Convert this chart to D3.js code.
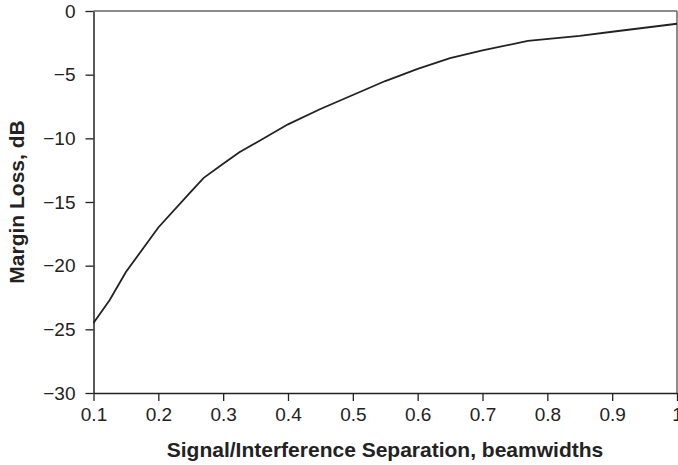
<!DOCTYPE html>
<html>
<head>
<meta charset="utf-8">
<script src="https://cdn.jsdelivr.net/npm/d3@7"></script>
<style>
  body { margin: 0; background: #fff; }
  svg { display: block; font-family: "Liberation Sans", Arial, sans-serif; }
</style>
</head>
<body>
<svg id="chart" width="678" height="465"></svg>
<script>
// separation in beamwidths, margin loss in dB
var separation = [0.1, 0.125, 0.15, 0.2, 0.25, 0.27, 0.3, 0.325, 0.4, 0.45, 0.5, 0.55, 0.6, 0.65, 0.7, 0.77, 0.85, 0.9, 1.0];
var marginLoss = [-24.5, -22.7, -20.5, -17.0, -14.2, -13.1, -12.0, -11.1, -8.9, -7.7, -6.6, -5.5, -4.55, -3.7, -3.1, -2.35, -1.95, -1.63, -1.0];
var xTicks = [0.1, 0.2, 0.3, 0.4, 0.5, 0.6, 0.7, 0.8, 0.9, 1];
var yTicks = [0, -5, -10, -15, -20, -25, -30];

var margin = {top: 11, right: 1, bottom: 72, left: 93.5};
var width = 678 - margin.left - margin.right;
var height = 465 - margin.top - margin.bottom;

var svg = d3.select("#chart");
var g = svg.append("g")
    .attr("transform", "translate(" + margin.left + "," + margin.top + ")");

var x = d3.scaleLinear().domain([0.1, 1]).range([0, width]);
var y = d3.scaleLinear().domain([-30, 0]).range([height, 0]);

// grey frame on top and right
g.append("line")
    .attr("x1", 0).attr("x2", width).attr("y1", 0).attr("y2", 0)
    .attr("stroke", "#666").attr("stroke-width", 1.5);
g.append("line")
    .attr("x1", width).attr("x2", width).attr("y1", 0).attr("y2", height)
    .attr("stroke", "#666").attr("stroke-width", 1.5);

var xAxis = g.append("g")
    .attr("transform", "translate(0," + height + ")")
    .call(d3.axisBottom(x).tickValues(xTicks).tickSize(8).tickPadding(7).tickSizeOuter(0)
        .tickFormat(function (d) { return d === 1 ? "1" : d3.format(".1f")(d); }));

var yAxis = g.append("g")
    .call(d3.axisLeft(y).tickValues(yTicks).tickSize(8).tickPadding(10).tickSizeOuter(0));

[xAxis, yAxis].forEach(function (a) {
    a.select(".domain").attr("stroke", "#222").attr("stroke-width", 1.5);
    a.selectAll(".tick line").attr("stroke", "#222").attr("stroke-width", 1.3);
    a.selectAll("text")
        .attr("fill", "#222")
        .style("font-size", "19px")
        .style("font-family", "'Liberation Sans', Arial, sans-serif");
});

var line = d3.line()
    .x(function (d, i) { return x(separation[i]); })
    .y(function (d) { return y(d); });

g.append("path")
    .datum(marginLoss)
    .attr("d", line)
    .attr("fill", "none")
    .attr("stroke", "#222")
    .attr("stroke-width", 1.8);

svg.append("text")
    .attr("x", 385)
    .attr("y", 457)
    .attr("text-anchor", "middle")
    .style("font-size", "21px")
    .style("font-weight", "bold")
    .attr("fill", "#222")
    .text("Signal/Interference Separation, beamwidths");

svg.append("text")
    .attr("transform", "translate(24," + (margin.top + height / 2) + ") rotate(-90)")
    .attr("text-anchor", "middle")
    .style("font-size", "21px")
    .style("font-weight", "bold")
    .attr("fill", "#222")
    .text("Margin Loss, dB");
</script>
</body>
</html>
